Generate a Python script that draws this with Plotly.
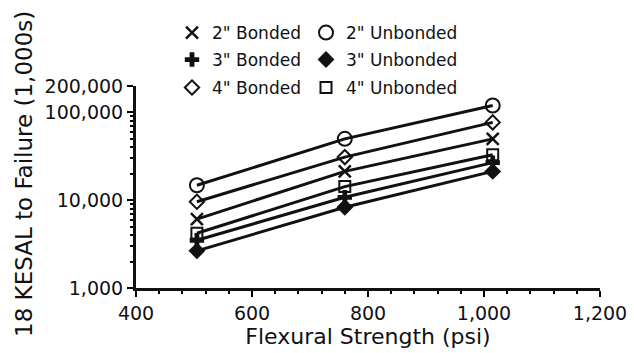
import plotly.graph_objects as go

strength = [505, 760, 1015]

series_names = ['2" Bonded', '2" Unbonded', '3" Bonded', '3" Unbonded', '4" Bonded', '4" Unbonded']
bonded_2 = [6100, 21300, 50000]
unbonded_2 = [14800, 50000, 120000]
bonded_3 = [3500, 10800, 26800]
unbonded_3 = [2650, 8300, 21300]
bonded_4 = [9600, 31000, 77000]
unbonded_4 = [4200, 14300, 33000]

x_tick_vals = [400, 600, 800, 1000, 1200]
y_tick_vals = [1000, 10000, 100000, 200000]
y_tick_text = ["1,000", "10,000", "100,000", "200,000"]

FONT = "DejaVu Sans"
BLACK = "#111111"

series = [
    (series_names[0], bonded_2, dict(symbol="x-thin-open", size=12, line=dict(width=2.5, color=BLACK))),
    (series_names[1], unbonded_2, dict(symbol="circle-open", size=14, line=dict(width=2, color=BLACK))),
    (series_names[2], bonded_3, dict(symbol="cross", size=12, line=dict(width=0))),
    (series_names[3], unbonded_3, dict(symbol="diamond", size=13, line=dict(width=0))),
    (series_names[4], bonded_4, dict(symbol="diamond-open", size=11, line=dict(width=2, color=BLACK))),
    (series_names[5], unbonded_4, dict(symbol="square-open", size=11, line=dict(width=2, color=BLACK))),
]
legend_ids = ["legend", "legend2", "legend3", "legend4", "legend5", "legend6"]

fig = go.Figure()
for name, vals, marker in series:
    fig.add_trace(go.Scatter(
        x=strength, y=vals, mode="lines", showlegend=False, hoverinfo="skip",
        line=dict(color=BLACK, width=3),
    ))
for (name, vals, marker), leg in zip(series, legend_ids):
    fig.add_trace(go.Scatter(
        x=strength, y=vals, name=name, mode="markers",
        marker=dict(color=BLACK, **marker), legend=leg,
    ))

minor_y = [m * 10 ** e for e in range(3, 6) for m in range(2, 10) if m * 10 ** e <= 200000]

leg_common = dict(font=dict(family=FONT, size=17, color=BLACK),
                  bgcolor="rgba(0,0,0,0)", itemwidth=30,
                  xanchor="left", yanchor="middle", xref="container", yref="container")
col_x = [172, 306]
row_y = [33, 60, 88]
legends = {}
for i, leg in enumerate(legend_ids):
    legends[leg] = dict(**leg_common, x=col_x[i % 2] / 634, y=1 - row_y[i // 2] / 353)

fig.update_layout(
    template="none",
    width=634, height=353,
    margin=dict(l=136, r=34, t=86, b=65, autoexpand=False),
    paper_bgcolor="white", plot_bgcolor="white",
    font=dict(family=FONT, color=BLACK),
    showlegend=True,
    **legends,
    xaxis=dict(
        range=[400, 1200], tickvals=x_tick_vals, tickformat=",",
        ticks="outside", ticklen=6, tickwidth=2, tickcolor="black",
        showline=True, linewidth=3, linecolor=BLACK, showgrid=False, zeroline=False,
        tickfont=dict(family=FONT, size=19, color=BLACK),
        minor=dict(dtick=40, tick0=400, ticks="outside", ticklen=3, tickwidth=2, tickcolor="black", showgrid=False),
        title=dict(text="Flexural Strength (psi)", font=dict(family=FONT, size=22, color=BLACK), standoff=0),
    ),
    yaxis=dict(
        type="log", range=[3, 5.30103], tickvals=y_tick_vals, ticktext=y_tick_text,
        ticks="outside", ticklen=6, tickwidth=2, tickcolor="black",
        showline=True, linewidth=3, linecolor=BLACK, showgrid=False, zeroline=False,
        tickfont=dict(family=FONT, size=19, color=BLACK),
        minor=dict(tickvals=minor_y, ticks="outside", ticklen=3, tickwidth=2, tickcolor="black", showgrid=False),
    ),
    annotations=[dict(
        text="18 KESAL to Failure (1,000s)", textangle=-90, showarrow=False,
        xref="paper", yref="paper", x=(24 - 136) / 464, y=(288 - 174) / 202,
        xanchor="center", yanchor="middle",
        font=dict(family=FONT, size=23, color=BLACK),
    )],
)

fig.write_html("out.html")
